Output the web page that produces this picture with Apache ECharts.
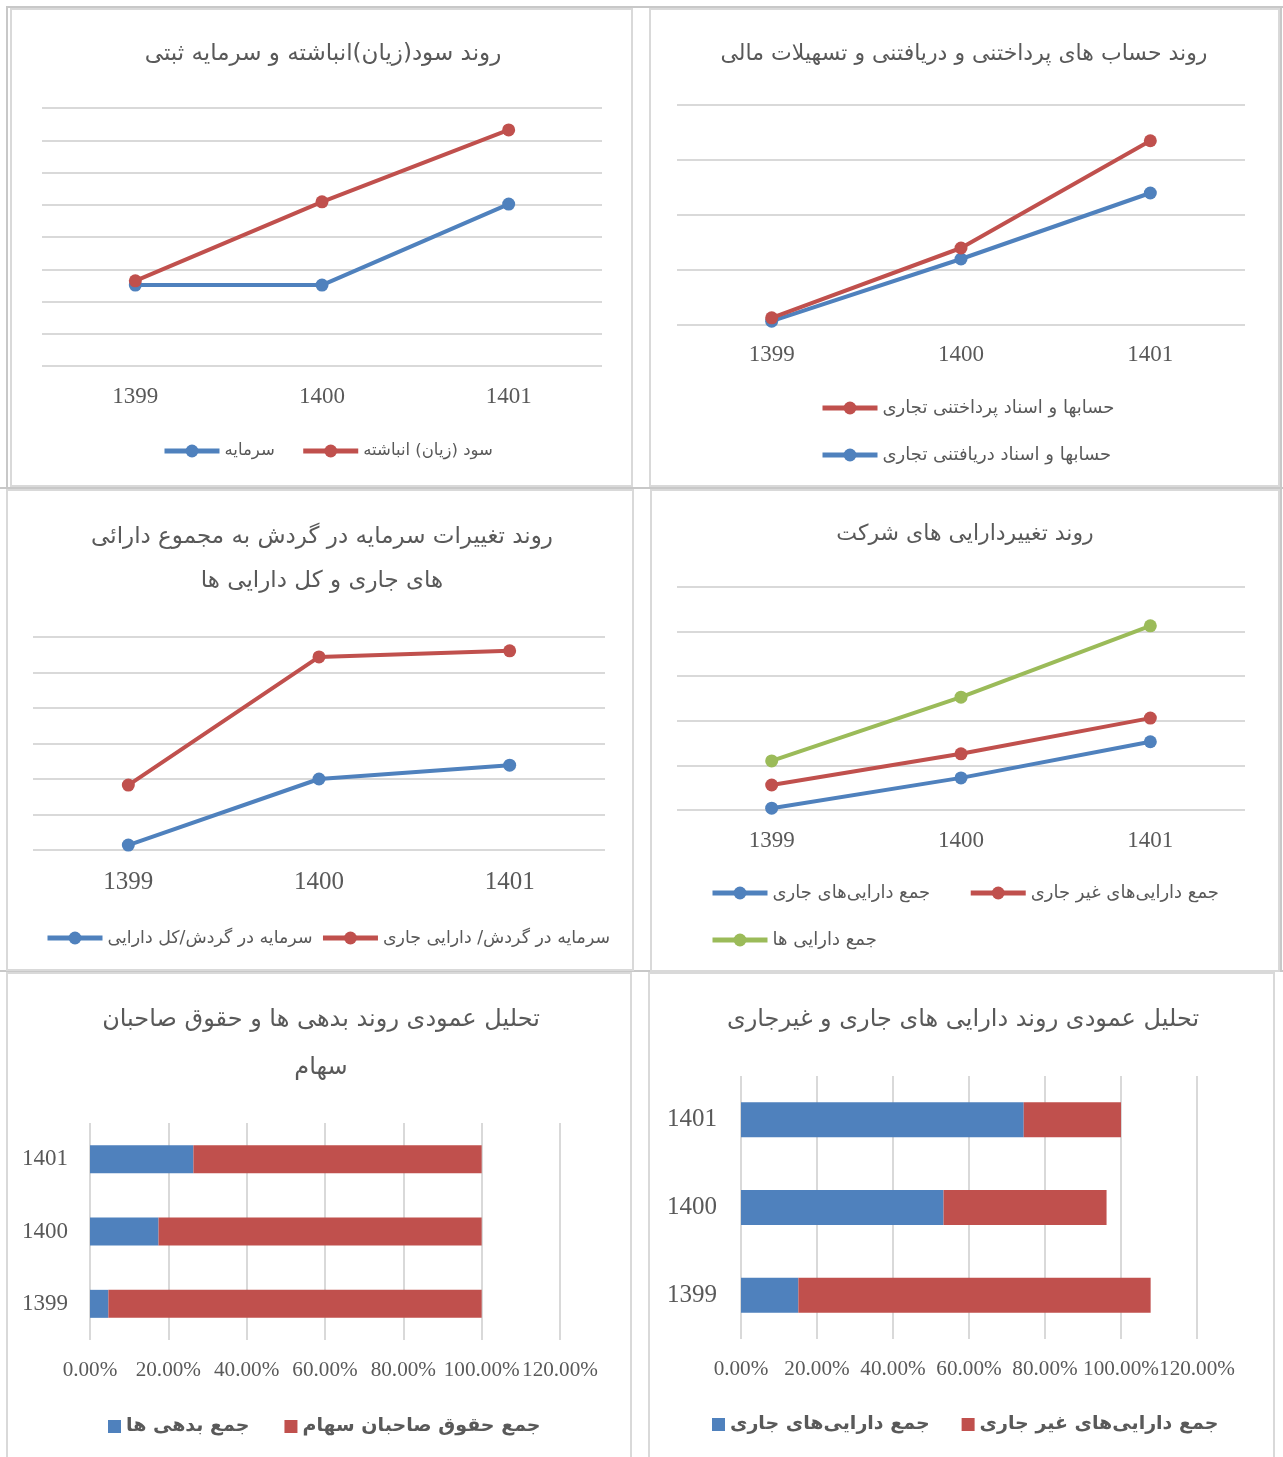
<!DOCTYPE html>
<html>
<head>
<meta charset="utf-8">
<script src="https://cdn.jsdelivr.net/npm/echarts@6/dist/echarts.min.js"></script>
<style>
  html, body { margin: 0; padding: 0; background: #ffffff; }
  #page { position: relative; width: 1283px; height: 1457px; overflow: hidden; background: #fff; }
  .panel { position: absolute; box-sizing: border-box; border: 2px solid #d9d9d9; }
  .rule { position: absolute; background: #c8c8c8; }
</style>
</head>
<body>
<div id="page">
  <div class="rule" style="left:6px;top:6px;width:1277px;height:2px;"></div>
  <div class="rule" style="left:6px;top:6px;width:2px;height:1451px;"></div>
  <div class="rule" style="left:0px;top:487px;width:1283px;height:2px;"></div>
  <div class="rule" style="left:0px;top:970px;width:1283px;height:2px;"></div>
  <div class="rule" style="left:1280px;top:6px;width:2px;height:966px;"></div>
  <div class="panel" id="c1" style="left:10px;top:8px;width:623px;height:479px;"></div>
  <div class="panel" id="c2" style="left:649px;top:8px;width:631px;height:479px;"></div>
  <div class="panel" id="c3" style="left:6px;top:489px;width:628px;height:482px;"></div>
  <div class="panel" id="c4" style="left:650px;top:489px;width:630px;height:483px;"></div>
  <div class="panel" id="c5" style="left:6px;top:972px;width:626px;height:490px;"></div>
  <div class="panel" id="c6" style="left:648px;top:972px;width:627px;height:490px;"></div>
</div>
<script>
// ---------------- DATA ----------------
const years = ['1399', '1400', '1401'];

// Chart 1: روند سود(زیان)انباشته و سرمایه ثبتی (values in gridline units, axis unlabeled)
const c1Title = 'روند سود(زیان)انباشته و سرمایه ثبتی';
const c1Names = ['سرمایه', 'سود (زیان) انباشته'];
const c1Capital = [2.51, 2.51, 5.02];
const c1Retained = [2.64, 5.09, 7.32];

// Chart 2: روند حساب های پرداختنی و دریافتنی و تسهیلات مالی
const c2Title = 'روند حساب های پرداختنی و دریافتنی و تسهیلات مالی';
const c2Names = ['حسابها و اسناد دریافتنی تجاری', 'حسابها و اسناد پرداختنی تجاری'];
const c2Receivables = [0.07, 1.20, 2.40];
const c2Payables = [0.13, 1.40, 3.35];

// Chart 3: روند تغییرات سرمایه در گردش ...
const c3Title = 'روند تغییرات سرمایه در گردش به مجموع دارائی\nهای جاری و کل دارایی ها';
const c3Names = ['سرمایه در گردش/کل دارایی', 'سرمایه در گردش/ دارایی جاری'];
const c3WcToTotal = [0.14, 2.00, 2.39];
const c3WcToCurrent = [1.83, 5.44, 5.61];

// Chart 4: روند تغییردارایی های شرکت
const c4Title = 'روند تغییردارایی های شرکت';
const c4Names = ['جمع دارایی‌های جاری', 'جمع دارایی‌های غیر جاری', 'جمع دارایی ها'];
const c4Current = [0.04, 0.72, 1.53];
const c4NonCurrent = [0.56, 1.26, 2.06];
const c4Total = [1.10, 2.53, 4.13];

// Chart 5: تحلیل عمودی روند بدهی ها و حقوق صاحبان سهام
const c5Title = 'تحلیل عمودی روند بدهی ها و حقوق صاحبان\nسهام';
const c5Names = ['جمع بدهی ها', 'جمع حقوق صاحبان سهام'];
const c5Liabilities = [0.047, 0.175, 0.264];
const c5Equity = [0.953, 0.825, 0.736];

// Chart 6: تحلیل عمودی روند دارایی های جاری و غیرجاری
const c6Title = 'تحلیل عمودی روند دارایی های جاری و غیرجاری';
const c6Names = ['جمع دارایی‌های جاری', 'جمع دارایی‌های غیر جاری'];
const c6Current = [0.151, 0.533, 0.744];
const c6NonCurrent = [0.927, 0.429, 0.256];

const pctTicks = { min: 0, max: 1.2, interval: 0.2 };

// ---------------- STYLE ----------------
const BLUE = '#4f81bd', RED = '#c0504d', GREEN = '#9bbb59';
const TXT = '#595959', GRIDC = '#d9d9d9';
const FONT = "'Liberation Serif', 'DejaVu Sans', serif";
const FA = "'DejaVu Sans', 'Liberation Serif', sans-serif";

function lineSeries(name, data, color) {
  return {
    type: 'line', name: name, data: data,
    symbol: 'circle', symbolSize: 13,
    lineStyle: { width: 4, color: color },
    itemStyle: { color: color },
    emphasis: { disabled: true },
    animation: false
  };
}

function catX(fs, margin) {
  return {
    type: 'category', data: years, boundaryGap: true,
    axisLine: { show: false }, axisTick: { show: false },
    axisLabel: { color: TXT, fontFamily: FONT, fontSize: fs, margin: margin }
  };
}
function valY(max) {
  return {
    type: 'value', min: 0, max: max, interval: 1,
    axisLabel: { show: false }, axisLine: { show: false }, axisTick: { show: false },
    splitLine: { show: true, lineStyle: { color: GRIDC, width: 2 } }
  };
}
function titleOpt(text, cx, top, fs, lh) {
  return {
    text: text, left: cx, top: top, padding: 0,
    textAlign: 'center',
    textStyle: { color: TXT, fontFamily: FA, fontSize: fs, fontWeight: 'normal', lineHeight: lh }
  };
}
function lineLegend(extra, fs) {
  return Object.assign({
    itemWidth: 55, itemHeight: 16, itemGap: 30, padding: 0,
    lineStyle: { width: 5 },
    textStyle: { color: TXT, fontFamily: FA, fontSize: fs || 18, lineHeight: 22 },
    selectedMode: false
  }, extra);
}

// Chart 1
echarts.init(document.getElementById('c1')).setOption({
  animation: false,
  title: titleOpt(c1Title, 311, 33, 23),
  grid: { left: 30, top: 98, width: 560, height: 258 },
  xAxis: catX(23, 19),
  yAxis: valY(8),
  legend: lineLegend({ data: [c1Names[0], c1Names[1]], left: 150, top: 430, itemGap: 26 }, 16.5),
  series: [lineSeries(c1Names[0], c1Capital, BLUE), lineSeries(c1Names[1], c1Retained, RED)]
});

// Chart 2
echarts.init(document.getElementById('c2')).setOption({
  animation: false,
  title: titleOpt(c2Title, 313, 33, 22),
  grid: { left: 26, top: 95, width: 568, height: 220 },
  xAxis: catX(23, 18),
  yAxis: valY(4),
  legend: lineLegend({ data: [c2Names[1], c2Names[0]], orient: 'vertical', left: 169, top: 387, itemGap: 25 }),
  series: [lineSeries(c2Names[0], c2Receivables, BLUE), lineSeries(c2Names[1], c2Payables, RED)]
});

// Chart 3
echarts.init(document.getElementById('c3')).setOption({
  animation: false,
  title: titleOpt(c3Title, 314, 24, 23, 44),
  grid: { left: 25, top: 146, width: 572, height: 213 },
  xAxis: catX(25, 20),
  yAxis: valY(6),
  legend: lineLegend({ data: [c3Names[0], c3Names[1]], left: 37, top: 436, itemGap: 8 }, 17.4),
  series: [lineSeries(c3Names[0], c3WcToTotal, BLUE), lineSeries(c3Names[1], c3WcToCurrent, RED)]
});

// Chart 4
echarts.init(document.getElementById('c4')).setOption({
  animation: false,
  title: titleOpt(c4Title, 313, 32, 22),
  grid: { left: 25, top: 96, width: 568, height: 223 },
  xAxis: catX(23, 19),
  yAxis: valY(5),
  legend: [
    lineLegend({ data: [c4Names[0], c4Names[1]], left: 58, top: 391, itemGap: 38 }),
    lineLegend({ data: [c4Names[2]], left: 58, top: 438 })
  ],
  series: [
    lineSeries(c4Names[0], c4Current, BLUE),
    lineSeries(c4Names[1], c4NonCurrent, RED),
    lineSeries(c4Names[2], c4Total, GREEN)
  ]
});

// Bar charts
function barOption(title, cx, titleTop, titleLH, grid, names, a, b, barW, yFs, yMargin, legendLeft, legendTop, legendGap) {
  return {
    animation: false,
    title: titleOpt(title, cx, titleTop, 24, titleLH),
    grid: grid,
    xAxis: {
      type: 'value', min: pctTicks.min, max: pctTicks.max, interval: pctTicks.interval,
      axisLine: { show: false }, axisTick: { show: false },
      splitLine: { show: true, lineStyle: { color: GRIDC, width: 2 } },
      axisLabel: {
        color: TXT, fontFamily: FONT, fontSize: 21.2, margin: 20,
        hideOverlap: false, showMinLabel: true, showMaxLabel: true,
        formatter: function (v) { return (v * 100).toFixed(2) + '%'; }
      }
    },
    yAxis: {
      type: 'category', data: years,
      axisLine: { show: false }, axisTick: { show: false },
      axisLabel: { color: TXT, fontFamily: FONT, fontSize: yFs, margin: yMargin }
    },
    legend: {
      data: names, left: legendLeft, top: legendTop, itemGap: legendGap,
      icon: 'rect', itemWidth: 13, itemHeight: 13, padding: 0, selectedMode: false,
      textStyle: { color: TXT, fontFamily: FA, fontSize: 19, fontWeight: 'bold' }
    },
    series: [
      { type: 'bar', name: names[0], stack: 's', data: a, barWidth: barW, itemStyle: { color: BLUE }, emphasis: { disabled: true } },
      { type: 'bar', name: names[1], stack: 's', data: b, barWidth: barW, itemStyle: { color: RED }, emphasis: { disabled: true } }
    ]
  };
}

echarts.init(document.getElementById('c5')).setOption(
  barOption(c5Title, 313, 22, 48, { left: 82, top: 149, width: 470, height: 217 },
    c5Names, c5Liabilities, c5Equity, 28, 23, 22, 100, 443, 35)
);
echarts.init(document.getElementById('c6')).setOption(
  barOption(c6Title, 313, 34, null, { left: 91, top: 102, width: 456, height: 263 },
    c6Names, c6Current, c6NonCurrent, 35, 25, 24, 62, 441, 32)
);
</script>
</body>
</html>
